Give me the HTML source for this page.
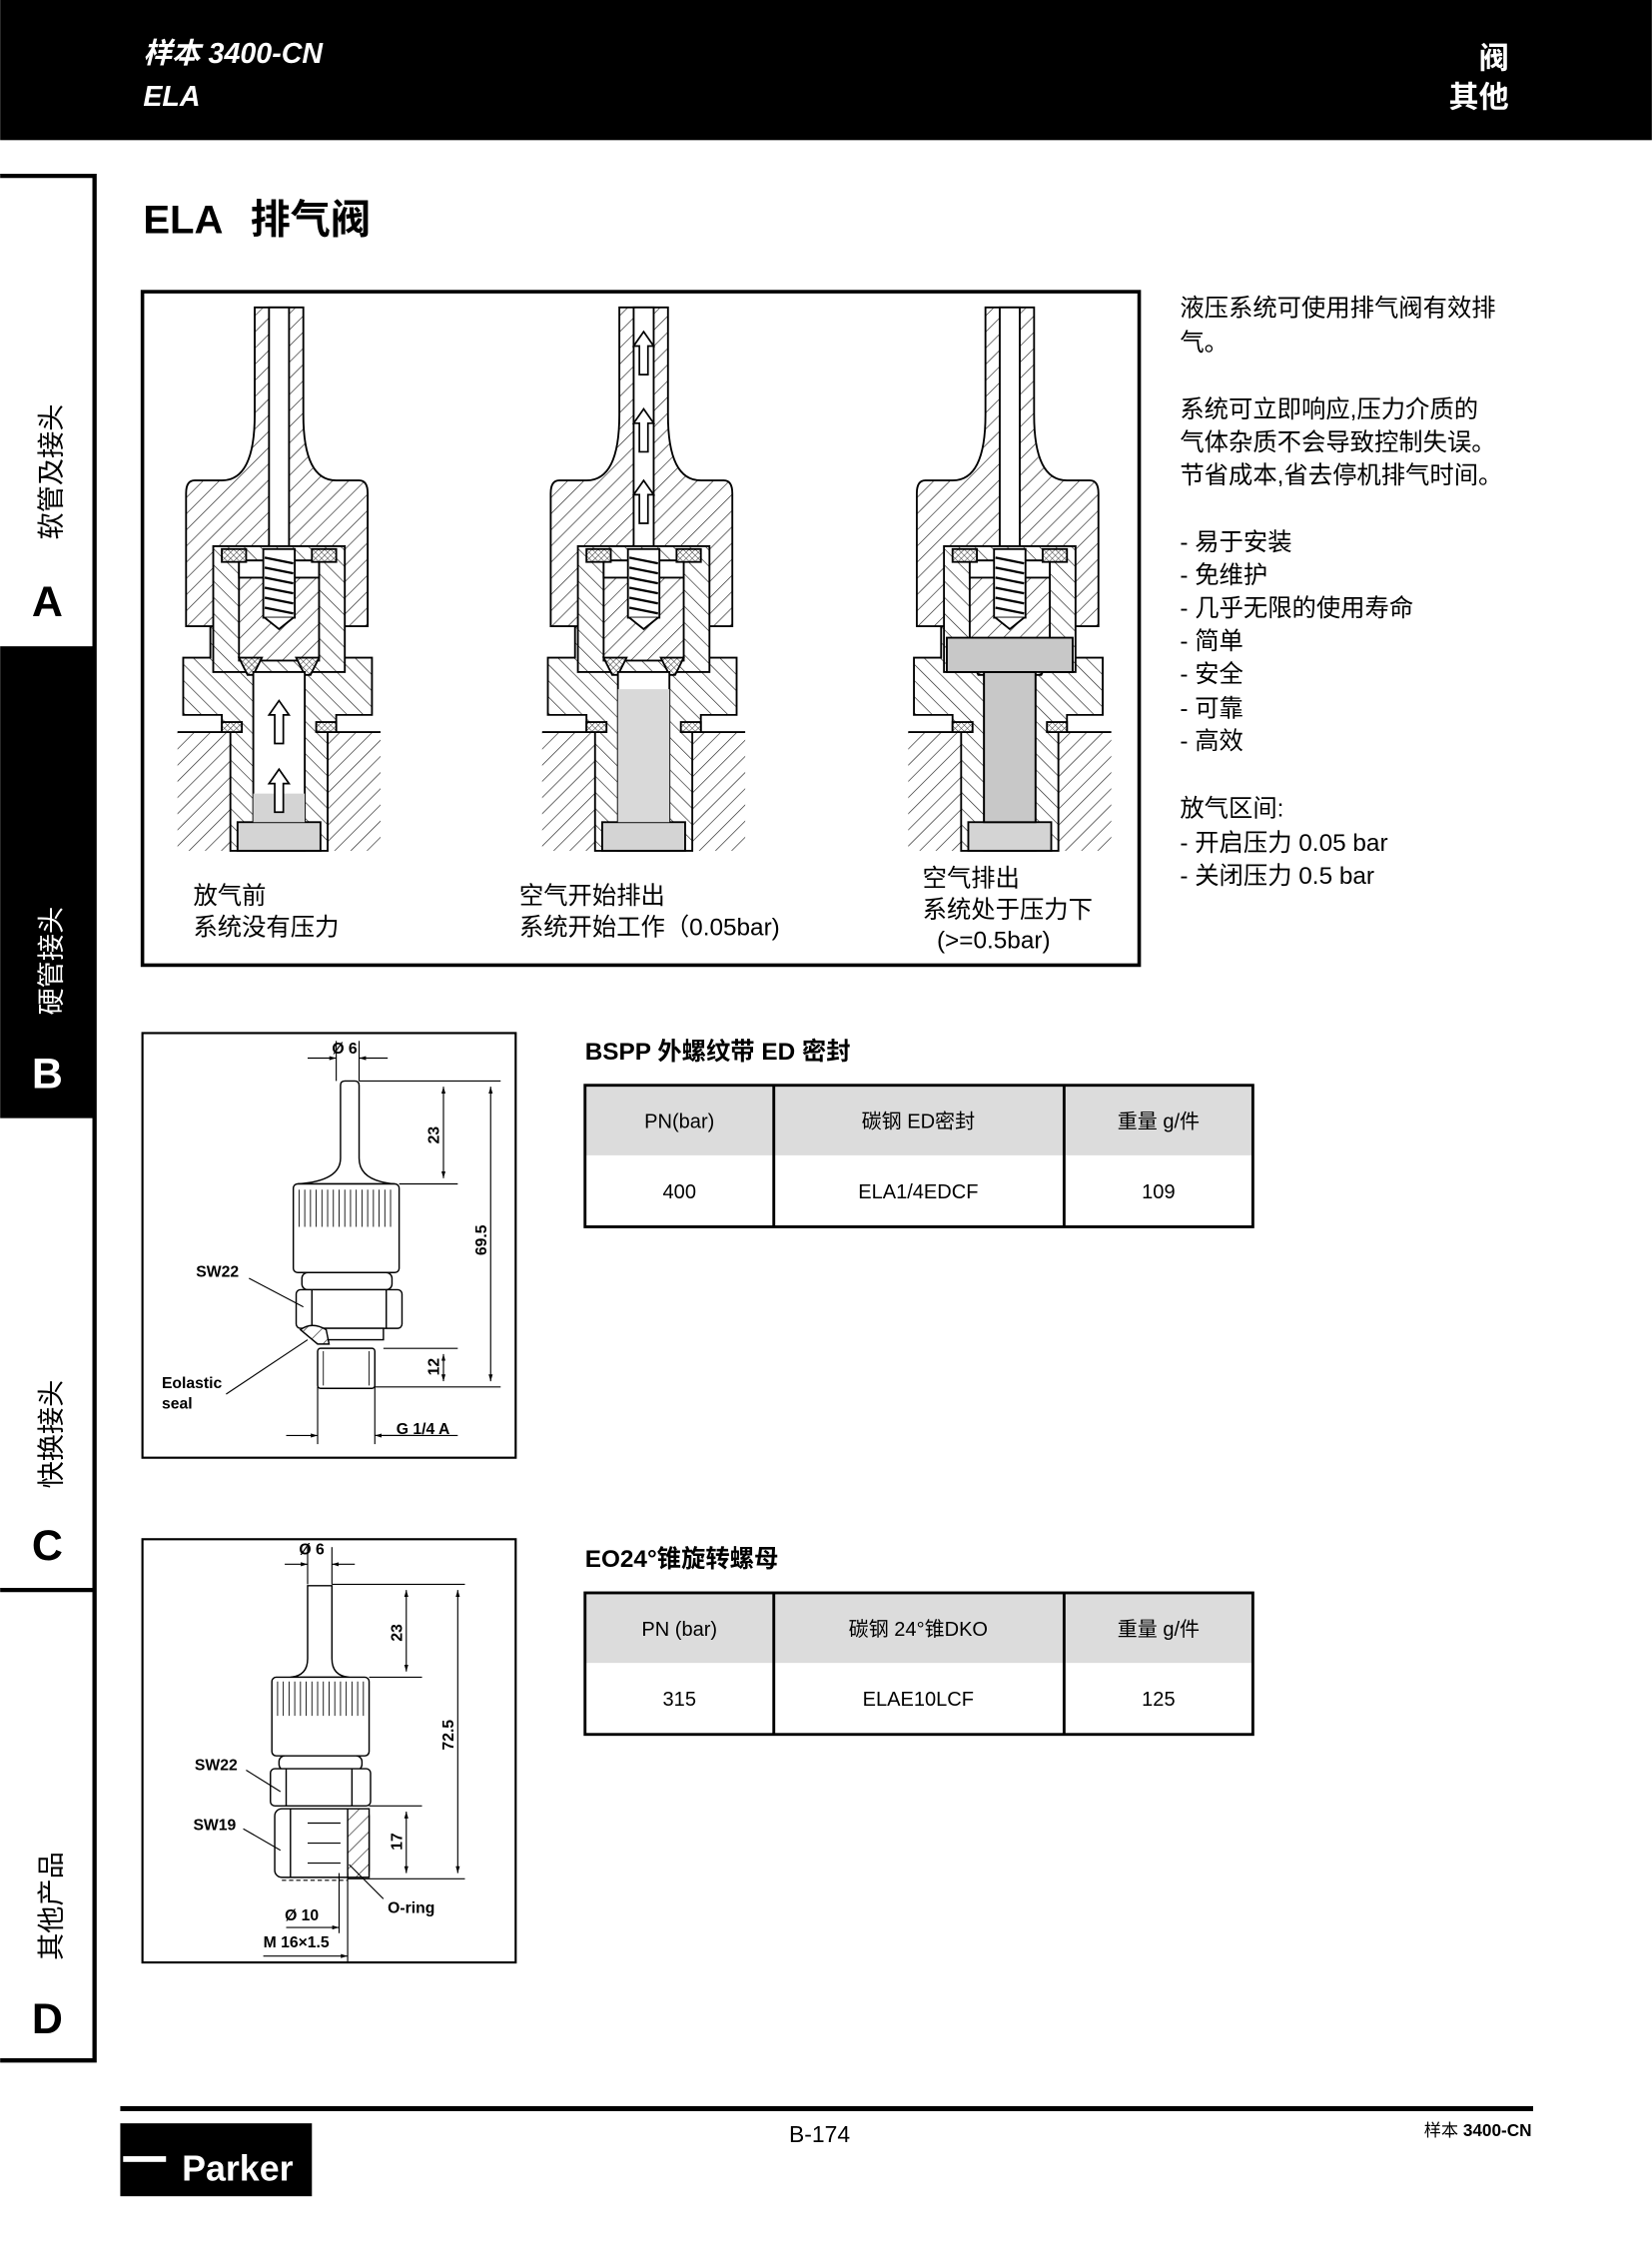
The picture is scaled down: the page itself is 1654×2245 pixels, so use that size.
<!DOCTYPE html>
<html><head><meta charset="utf-8"><style>
html,body{margin:0;padding:0;background:#fff}
svg{display:block}
text{font-family:"Liberation Sans","Noto Sans CJK SC",sans-serif}
</style></head><body>
<svg width="1654" height="2245" viewBox="0 0 1155 1568" xmlns="http://www.w3.org/2000/svg">
<defs>
<pattern id="h1" width="8" height="8" patternUnits="userSpaceOnUse" patternTransform="rotate(45)"><rect width="8" height="8" fill="#fff"/><line x1="0" y1="0" x2="0" y2="8" stroke="#222" stroke-width="0.9"/></pattern>
<pattern id="h2" width="8" height="8" patternUnits="userSpaceOnUse" patternTransform="rotate(-45)"><rect width="8" height="8" fill="#fff"/><line x1="0" y1="0" x2="0" y2="8" stroke="#222" stroke-width="0.9"/></pattern>
<pattern id="xh" width="3" height="3" patternUnits="userSpaceOnUse" patternTransform="rotate(45)"><rect width="3" height="3" fill="#fff"/><path d="M0 0V3M0 0H3" stroke="#333" stroke-width="0.7"/></pattern>
<marker id="ar" viewBox="0 0 10 10" refX="10" refY="5" markerWidth="6" markerHeight="6" orient="auto-start-reverse"><path d="M0 2L10 5L0 8Z" fill="#000"/></marker>
<g id="valve" stroke="#000" stroke-width="1.3">
  <rect x="-71" y="512" width="37" height="83" fill="url(#h1)" stroke="none"/>
  <rect x="34" y="512" width="37" height="83" fill="url(#h1)" stroke="none"/>
  <line x1="-71" y1="512" x2="-40" y2="512"/><line x1="40" y1="512" x2="71" y2="512"/>
  <path d="M-48,438 H45 V460 H65 V500 H40 V512 H34 V595 H-34 V512 H-40 V500 H-67 V460 H-48 Z" fill="url(#h2)"/>
  <path d="M-17,215 H17 V290 Q17,336 40,336 H56 Q62,336 62,345 V438 H-65 V345 Q-65,336 -59,336 H-40 Q-17,336 -17,290 Z" fill="url(#h1)"/>
  <rect x="-7" y="215" width="14" height="170" fill="#fff"/>
  <rect x="-46" y="382" width="92" height="88" fill="url(#h2)"/>
  <rect x="-28" y="392" width="56" height="70" fill="url(#h1)"/>
  <rect x="-28" y="392" width="56" height="12" fill="#fff"/>
  <rect x="-11" y="384" width="22" height="48" fill="#fff"/>
  <path d="M-10,390 L10,394 M-10,397 L10,401 M-10,404 L10,408 M-10,411 L10,415 M-10,418 L10,422 M-10,425 L10,429" stroke-width="1.6"/>
  <path d="M-10,432 L0,440 L10,432" fill="#fff"/>
  <rect x="-40" y="384" width="17" height="9" fill="url(#xh)"/>
  <rect x="23" y="384" width="17" height="9" fill="url(#xh)"/>
  <path d="M-28,460 H-12 L-18,472 H-22 Z" fill="url(#xh)"/>
  <path d="M28,460 H12 L18,472 H22 Z" fill="url(#xh)"/>
  <rect x="-18" y="470" width="36" height="125" fill="#fff"/>
  <rect x="-29" y="575" width="58" height="20" fill="#d4d4d4"/>
  <rect x="-40" y="505" width="14" height="7" fill="url(#xh)"/>
  <rect x="26" y="505" width="14" height="7" fill="url(#xh)"/>
</g>
</defs>

<rect x="0" y="0" width="1155" height="98" fill="#000"/>
<text x="100" y="44" fill="#fff" font-size="20" font-weight="bold" font-style="italic">样本 3400-CN</text>
<text x="100" y="74" fill="#fff" font-size="20" font-weight="bold" font-style="italic">ELA</text>
<text x="1055" y="48" fill="#fff" font-size="21" font-weight="bold" text-anchor="end">阀</text>
<text x="1055" y="75" fill="#fff" font-size="21" font-weight="bold" text-anchor="end">其他</text>

<path d="M0,123 H66 V1441 H0" fill="none" stroke="#000" stroke-width="3"/>
<rect x="0" y="452" width="67" height="330" fill="#000"/>
<line x1="0" y1="1112" x2="67" y2="1112" stroke="#000" stroke-width="3"/>
<text transform="translate(42,330) rotate(-90)" font-size="19" text-anchor="middle">软管及接头</text>
<text x="33" y="431" font-size="30" font-weight="bold" text-anchor="middle">A</text>
<text transform="translate(42,672) rotate(-90)" font-size="19" text-anchor="middle" fill="#fff">硬管接头</text>
<text x="33" y="761" font-size="30" font-weight="bold" text-anchor="middle" fill="#fff">B</text>
<text transform="translate(42,1003) rotate(-90)" font-size="19" text-anchor="middle">快换接头</text>
<text x="33" y="1091" font-size="30" font-weight="bold" text-anchor="middle">C</text>
<text transform="translate(42,1333) rotate(-90)" font-size="19" text-anchor="middle">其他产品</text>
<text x="33" y="1422" font-size="30" font-weight="bold" text-anchor="middle">D</text>

<text x="100" y="163" font-size="28" font-weight="bold">ELA<tspan x="175">排气阀</tspan></text>

<rect x="99.5" y="204" width="697" height="471" fill="none" stroke="#000" stroke-width="2.5"/>
<use href="#valve" x="195" y="0"/>
<use href="#valve" x="450" y="0"/>
<use href="#valve" x="706" y="0"/>
<rect x="177" y="555" width="36" height="20" fill="#d4d4d4"/>
<path d="M192,520 V500 H188 L195,490 L202,500 H198 V520 Z M192,568 V548 H188 L195,538 L202,548 H198 V568 Z" fill="#fff" stroke="#000" stroke-width="1.2"/>
<rect x="432" y="482" width="36" height="93" fill="#d9d9d9"/>
<path d="M447,262 V242 H443 L450,232 L457,242 H453 V262 Z M447,316 V296 H443 L450,286 L457,296 H453 V316 Z M447,366 V346 H443 L450,336 L457,346 H453 V366 Z" fill="#fff" stroke="#000" stroke-width="1.2"/>
<rect x="688" y="470" width="36" height="105" fill="#c8c8c8" stroke="#000" stroke-width="1.3"/>
<rect x="662" y="446" width="88" height="24" fill="#c8c8c8" stroke="#000" stroke-width="1.3"/>

<g font-size="17">
<text x="135" y="632">放气前</text>
<text x="135" y="654">系统没有压力</text>
<text x="363" y="632">空气开始排出</text>
<text x="363" y="654">系统开始工作（0.05bar)</text>
<text x="645" y="620">空气排出</text>
<text x="645" y="642">系统处于压力下</text>
<text x="655" y="663">(&gt;=0.5bar)</text>
</g>

<g font-size="17">
<text x="825" y="221">液压系统可使用排气阀有效排</text>
<text x="825" y="245">气。</text>
<text x="825" y="292">系统可立即响应,压力介质的</text>
<text x="825" y="315">气体杂质不会导致控制失误。</text>
<text x="825" y="338">节省成本,省去停机排气时间。</text>
<text x="825" y="385">- 易于安装</text>
<text x="825" y="408">- 免维护</text>
<text x="825" y="431">- 几乎无限的使用寿命</text>
<text x="825" y="454">- 简单</text>
<text x="825" y="477">- 安全</text>
<text x="825" y="501">- 可靠</text>
<text x="825" y="524">- 高效</text>
<text x="825" y="571">放气区间:</text>
<text x="825" y="595">- 开启压力 0.05 bar</text>
<text x="825" y="618">- 关闭压力 0.5 bar</text>
</g>

<rect x="99.5" y="722.5" width="261" height="297" fill="none" stroke="#000" stroke-width="1.5"/>
<g stroke="#000" stroke-width="1" fill="#fff">
<path d="M238,759 Q238,756 241,756 H248 Q251,756 251,759 V810 Q251,826 276,828 H208 Q238,826 238,810 Z"/>
<rect x="205" y="828" width="74" height="62" rx="3"/>
<path d="M209,832 V858 M213,832 V858 M217,832 V858 M221,832 V858 M225,832 V858 M229,832 V858 M233,832 V858 M237,832 V858 M241,832 V858 M245,832 V858 M249,832 V858 M253,832 V858 M257,832 V858 M261,832 V858 M265,832 V858 M269,832 V858 M273,832 V858" stroke-width="0.6"/>
<rect x="211" y="890" width="63" height="12" rx="4"/>
<rect x="207" y="902" width="74" height="27" rx="3"/>
<path d="M218,902 V929 M270,902 V929"/>
<rect x="222" y="929" width="46" height="8"/>
<rect x="222" y="943" width="40" height="28" rx="2"/>
<path d="M226,945 V969 M258,945 V969" stroke-width="0.6"/>
<path d="M210,930 Q218,924 228,930 L230,940 L222,940 Z" fill="url(#h1)"/>
</g>
<g stroke="#000" stroke-width="0.8" fill="none">
<line x1="235" y1="728" x2="235" y2="756"/><line x1="251" y1="728" x2="251" y2="756"/>
<line x1="215" y1="740" x2="235" y2="740" marker-end="url(#ar)"/><line x1="271" y1="740" x2="251" y2="740" marker-end="url(#ar)"/>
<line x1="251" y1="756" x2="350" y2="756"/><line x1="279" y1="828" x2="320" y2="828"/><line x1="268" y1="943" x2="320" y2="943"/><line x1="262" y1="970" x2="350" y2="970"/>
<line x1="310" y1="760" x2="310" y2="824" marker-end="url(#ar)" marker-start="url(#ar)"/>
<line x1="343" y1="760" x2="343" y2="966" marker-end="url(#ar)" marker-start="url(#ar)"/>
<line x1="310" y1="947" x2="310" y2="966" marker-end="url(#ar)" marker-start="url(#ar)"/>
<line x1="222" y1="970" x2="222" y2="1010"/><line x1="262" y1="970" x2="262" y2="1010"/>
<line x1="200" y1="1004" x2="222" y2="1004" marker-end="url(#ar)"/><line x1="290" y1="1004" x2="262" y2="1004" marker-end="url(#ar)"/><line x1="262" y1="1004" x2="320" y2="1004"/>
<line x1="174" y1="894" x2="212" y2="914"/><line x1="158" y1="975" x2="215" y2="937"/>
</g>
<g font-size="11" font-weight="bold">
<text x="232" y="737">Ø 6</text>
<text transform="translate(307,800) rotate(-90)">23</text>
<text transform="translate(340,878) rotate(-90)">69.5</text>
<text transform="translate(307,962) rotate(-90)">12</text>
<text x="277" y="1003">G 1/4 A</text>
<text x="137" y="893">SW22</text>
<text x="113" y="971">Eolastic</text>
<text x="113" y="985">seal</text>
</g>

<rect x="99.5" y="1076.5" width="261" height="296" fill="none" stroke="#000" stroke-width="1.5"/>
<g stroke="#000" stroke-width="1" fill="#fff">
<path d="M215,1109 H232 V1160 Q232,1172 244,1173 H203 Q215,1172 215,1160 Z"/>
<rect x="190" y="1173" width="68" height="55" rx="3"/>
<path d="M194,1176 V1200 M198,1176 V1200 M202,1176 V1200 M206,1176 V1200 M210,1176 V1200 M214,1176 V1200 M218,1176 V1200 M222,1176 V1200 M226,1176 V1200 M230,1176 V1200 M234,1176 V1200 M238,1176 V1200 M242,1176 V1200 M246,1176 V1200 M250,1176 V1200 M254,1176 V1200" stroke-width="0.6"/>
<rect x="195" y="1228" width="58" height="10" rx="4"/>
<rect x="189" y="1237" width="70" height="26" rx="3"/>
<path d="M200,1237 V1263 M246,1237 V1263"/>
<rect x="192" y="1265" width="66" height="48" rx="5"/>
<path d="M203,1265 V1313"/>
<path d="M243,1265 H258 V1313 H243 Z" fill="url(#h1)"/>
<path d="M215,1275 H238 M215,1289 H238 M215,1303 H238" stroke-width="0.8"/>
<path d="M197,1315 H243" stroke-dasharray="3 2" stroke-width="0.8"/>
</g>
<g stroke="#000" stroke-width="0.8" fill="none">
<line x1="215" y1="1082" x2="215" y2="1108"/><line x1="232" y1="1082" x2="232" y2="1108"/>
<line x1="199" y1="1094" x2="215" y2="1094" marker-end="url(#ar)"/><line x1="248" y1="1094" x2="232" y2="1094" marker-end="url(#ar)"/>
<line x1="232" y1="1108" x2="325" y2="1108"/><line x1="258" y1="1173" x2="295" y2="1173"/><line x1="258" y1="1263" x2="295" y2="1263"/><line x1="243" y1="1314" x2="325" y2="1314"/>
<line x1="284" y1="1112" x2="284" y2="1169" marker-end="url(#ar)" marker-start="url(#ar)"/>
<line x1="320" y1="1112" x2="320" y2="1310" marker-end="url(#ar)" marker-start="url(#ar)"/>
<line x1="284" y1="1267" x2="284" y2="1310" marker-end="url(#ar)" marker-start="url(#ar)"/>
<line x1="237" y1="1310" x2="237" y2="1352"/><line x1="243" y1="1310" x2="243" y2="1372"/>
<line x1="200" y1="1348" x2="237" y2="1348" marker-end="url(#ar)"/>
<line x1="184" y1="1368" x2="243" y2="1368" marker-end="url(#ar)"/>
<line x1="172" y1="1238" x2="196" y2="1253"/><line x1="170" y1="1279" x2="196" y2="1294"/><line x1="268" y1="1328" x2="244" y2="1304"/>
</g>
<g font-size="11" font-weight="bold">
<text x="209" y="1087">Ø 6</text>
<text transform="translate(281,1148) rotate(-90)">23</text>
<text transform="translate(317,1224) rotate(-90)">72.5</text>
<text transform="translate(281,1294) rotate(-90)">17</text>
<text x="136" y="1238">SW22</text>
<text x="135" y="1280">SW19</text>
<text x="271" y="1338">O-ring</text>
<text x="199" y="1343">Ø 10</text>
<text x="184" y="1362">M 16×1.5</text>
</g>

<text x="409" y="741" font-size="17" font-weight="bold">BSPP 外螺纹带 ED 密封</text>
<rect x="409" y="759" width="467" height="49" fill="#dcdcdc"/>
<rect x="409" y="759" width="467" height="99" fill="none" stroke="#000" stroke-width="2"/>
<line x1="541" y1="759" x2="541" y2="858" stroke="#000" stroke-width="2"/>
<line x1="744" y1="759" x2="744" y2="858" stroke="#000" stroke-width="2"/>
<g font-size="14" text-anchor="middle">
<text x="475" y="789">PN(bar)</text><text x="642" y="789">碳钢 ED密封</text><text x="810" y="789">重量 g/件</text>
<text x="475" y="838">400</text><text x="642" y="838">ELA1/4EDCF</text><text x="810" y="838">109</text>
</g>

<text x="409" y="1096" font-size="17" font-weight="bold">EO24°锥旋转螺母</text>
<rect x="409" y="1114" width="467" height="49" fill="#dcdcdc"/>
<rect x="409" y="1114" width="467" height="99" fill="none" stroke="#000" stroke-width="2"/>
<line x1="541" y1="1114" x2="541" y2="1213" stroke="#000" stroke-width="2"/>
<line x1="744" y1="1114" x2="744" y2="1213" stroke="#000" stroke-width="2"/>
<g font-size="14" text-anchor="middle">
<text x="475" y="1144">PN (bar)</text><text x="642" y="1144">碳钢 24°锥DKO</text><text x="810" y="1144">重量 g/件</text>
<text x="475" y="1193">315</text><text x="642" y="1193">ELAE10LCF</text><text x="810" y="1193">125</text>
</g>

<rect x="84" y="1473" width="988" height="3.5" fill="#000"/>
<rect x="84" y="1485" width="134" height="51" fill="#000"/>
<rect x="86" y="1508" width="30" height="4" fill="#fff"/>
<text x="166" y="1525" font-size="25" font-weight="bold" fill="#fff" text-anchor="middle">Parker</text>
<text x="573" y="1498" font-size="16" text-anchor="middle">B-174</text>
<text x="1071" y="1494" font-size="12" text-anchor="end">样本 <tspan font-weight="bold">3400-CN</tspan></text>
</svg>
</body></html>
